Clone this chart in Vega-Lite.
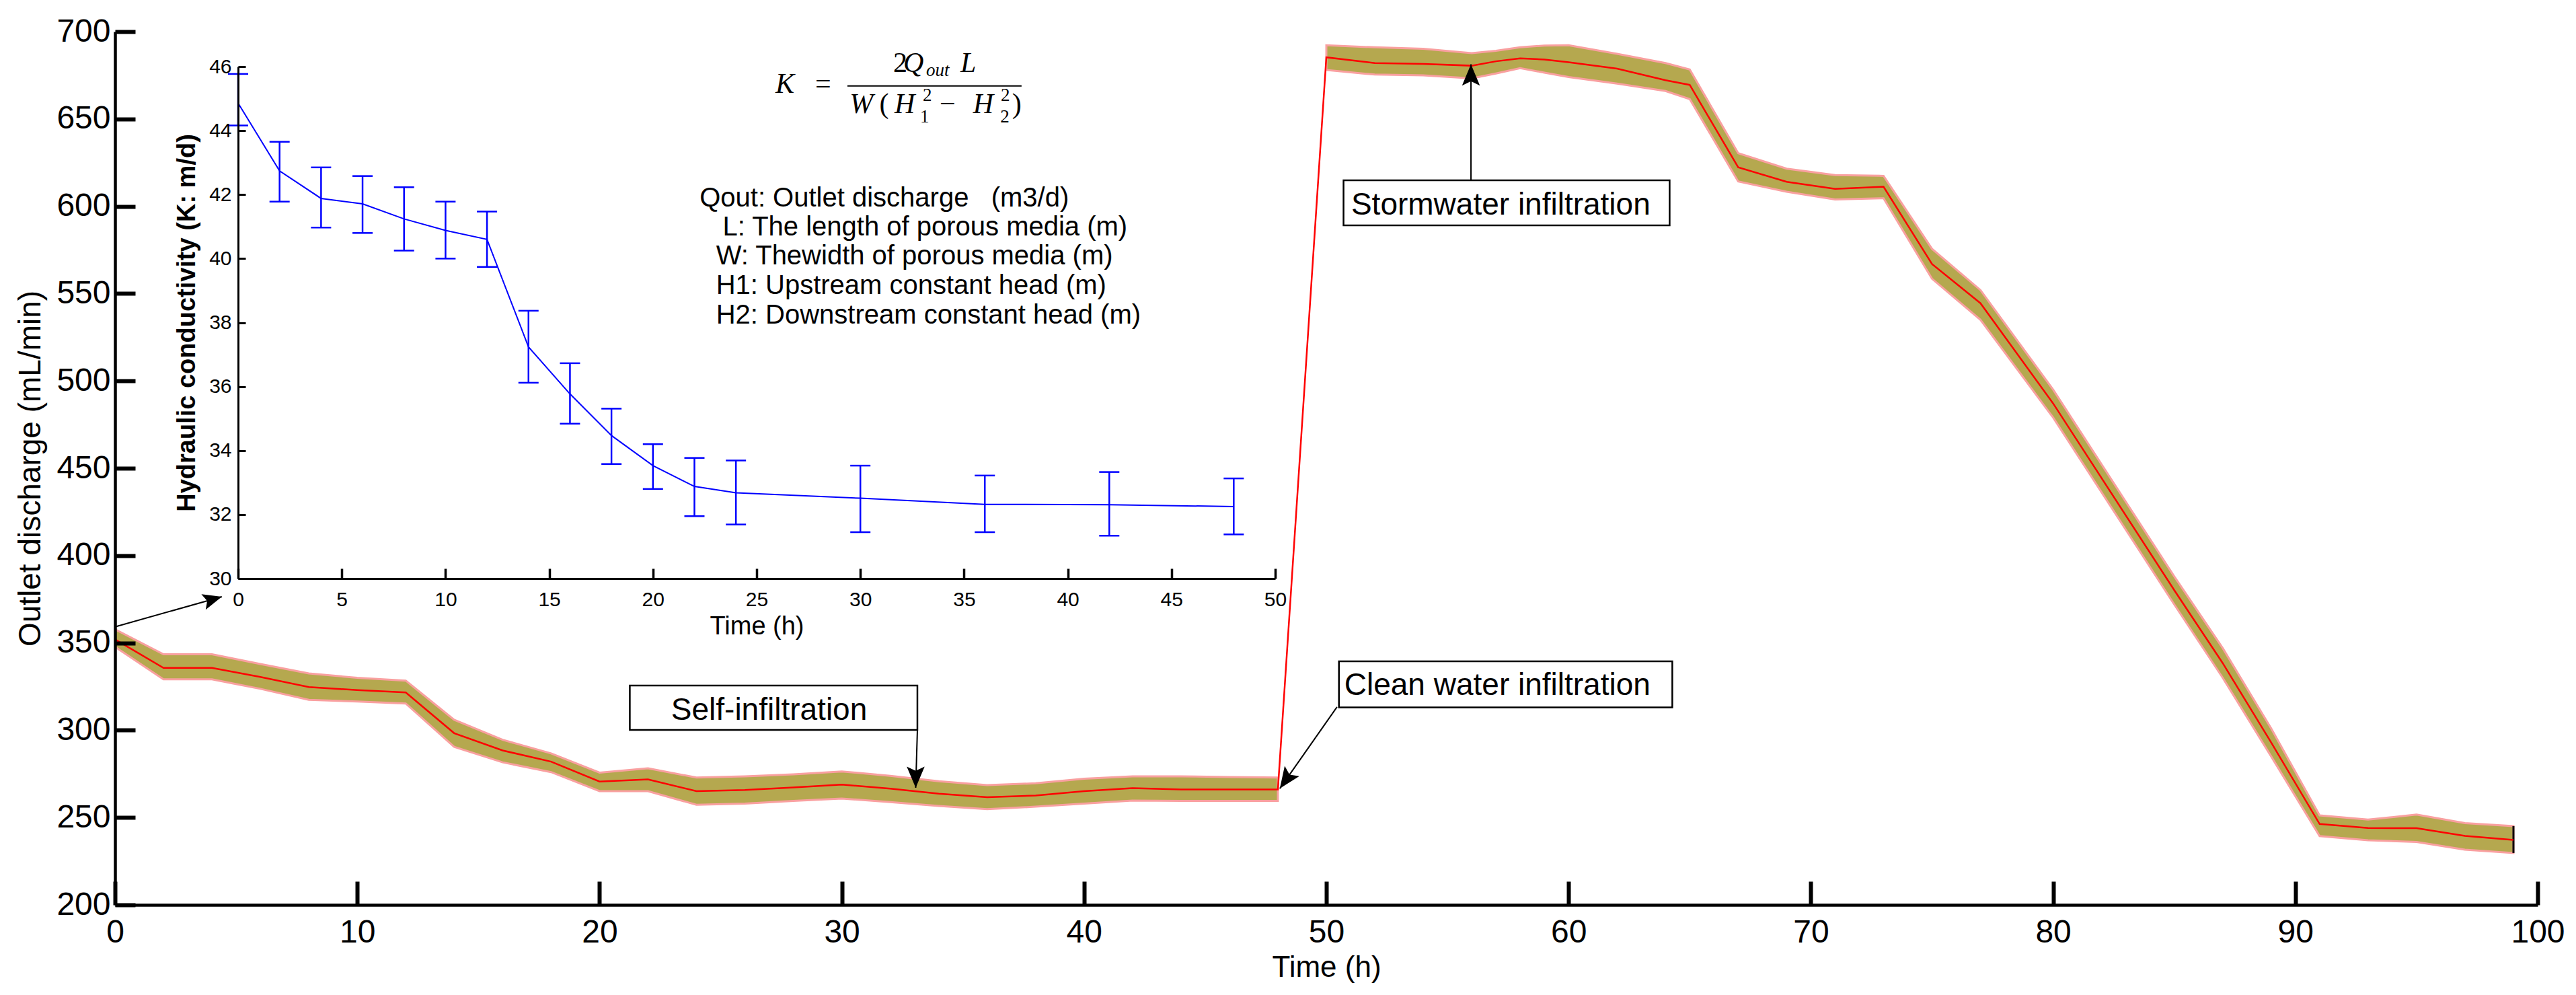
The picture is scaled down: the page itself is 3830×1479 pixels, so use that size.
{
  "$schema": "https://vega.github.io/schema/vega-lite/v6.json",
  "width": 3602,
  "height": 1298,
  "autosize": {"type": "none"},
  "padding": {"left": 171, "top": 47, "right": 57, "bottom": 134},
  "background": "white",
  "datasets": {
    "main": [
      {"t": 0, "q": 352.0, "lo": 347.7, "hi": 357.8, "seg": "a"},
      {"t": 2, "q": 335.7, "lo": 329.1, "hi": 343.5, "seg": "a"},
      {"t": 4, "q": 335.7, "lo": 329.1, "hi": 343.5, "seg": "a"},
      {"t": 6, "q": 330.5, "lo": 323.7, "hi": 337.9, "seg": "a"},
      {"t": 8, "q": 324.7, "lo": 317.4, "hi": 332.5, "seg": "a"},
      {"t": 10, "q": 323.0, "lo": 316.4, "hi": 330.0, "seg": "a"},
      {"t": 12, "q": 321.6, "lo": 315.3, "hi": 328.4, "seg": "a"},
      {"t": 14, "q": 298.3, "lo": 290.5, "hi": 306.0, "seg": "a"},
      {"t": 16, "q": 288.4, "lo": 281.6, "hi": 294.5, "seg": "a"},
      {"t": 18, "q": 282.0, "lo": 276.0, "hi": 286.7, "seg": "a"},
      {"t": 20, "q": 270.6, "lo": 265.1, "hi": 275.7, "seg": "a"},
      {"t": 22, "q": 271.8, "lo": 265.1, "hi": 278.2, "seg": "a"},
      {"t": 24, "q": 265.1, "lo": 257.3, "hi": 272.9, "seg": "a"},
      {"t": 26, "q": 265.8, "lo": 258.0, "hi": 273.6, "seg": "a"},
      {"t": 28, "q": 267.2, "lo": 259.5, "hi": 274.7, "seg": "a"},
      {"t": 30, "q": 268.9, "lo": 260.9, "hi": 276.4, "seg": "a"},
      {"t": 32, "q": 266.5, "lo": 258.8, "hi": 273.9, "seg": "a"},
      {"t": 34, "q": 263.7, "lo": 256.6, "hi": 270.8, "seg": "a"},
      {"t": 36, "q": 261.6, "lo": 254.8, "hi": 268.6, "seg": "a"},
      {"t": 38, "q": 262.6, "lo": 256.2, "hi": 269.6, "seg": "a"},
      {"t": 40, "q": 265.1, "lo": 258.0, "hi": 272.2, "seg": "a"},
      {"t": 42, "q": 266.8, "lo": 259.7, "hi": 273.6, "seg": "a"},
      {"t": 44, "q": 266.1, "lo": 259.5, "hi": 273.6, "seg": "a"},
      {"t": 46, "q": 266.1, "lo": 259.5, "hi": 273.2, "seg": "a"},
      {"t": 48, "q": 266.1, "lo": 259.5, "hi": 272.9, "seg": "a"},
      {"t": 50, "q": 685.3, "lo": 678.0, "hi": 692.2, "seg": "b"},
      {"t": 52, "q": 682.0, "lo": 675.4, "hi": 691.0, "seg": "b"},
      {"t": 54, "q": 681.5, "lo": 675.0, "hi": 690.2, "seg": "b"},
      {"t": 56, "q": 680.5, "lo": 673.2, "hi": 687.7, "seg": "b"},
      {"t": 57, "q": 683.0, "lo": 676.0, "hi": 689.0, "seg": "b"},
      {"t": 58, "q": 684.7, "lo": 679.1, "hi": 691.0, "seg": "b"},
      {"t": 59, "q": 684.0, "lo": 676.5, "hi": 692.0, "seg": "b"},
      {"t": 60, "q": 682.5, "lo": 674.0, "hi": 692.2, "seg": "b"},
      {"t": 62, "q": 678.8, "lo": 670.2, "hi": 687.3, "seg": "b"},
      {"t": 64, "q": 672.2, "lo": 666.0, "hi": 682.0, "seg": "b"},
      {"t": 65, "q": 669.5, "lo": 661.4, "hi": 678.3, "seg": "b"},
      {"t": 67, "q": 622.3, "lo": 614.2, "hi": 630.4, "seg": "b"},
      {"t": 69, "q": 614.0, "lo": 608.3, "hi": 621.5, "seg": "b"},
      {"t": 71, "q": 610.0, "lo": 603.9, "hi": 617.9, "seg": "b"},
      {"t": 73, "q": 611.2, "lo": 604.6, "hi": 617.4, "seg": "b"},
      {"t": 75, "q": 566.9, "lo": 558.5, "hi": 575.6, "seg": "b"},
      {"t": 77, "q": 544.5, "lo": 535.0, "hi": 552.0, "seg": "b"},
      {"t": 80, "q": 487.1, "lo": 479.0, "hi": 495.0, "seg": "b"},
      {"t": 85, "q": 380.2, "lo": 372.0, "hi": 388.0, "seg": "b"},
      {"t": 87, "q": 338.4, "lo": 330.0, "hi": 347.0, "seg": "b"},
      {"t": 89, "q": 293.0, "lo": 285.0, "hi": 301.0, "seg": "b"},
      {"t": 91, "q": 246.3, "lo": 239.4, "hi": 251.2, "seg": "b"},
      {"t": 93, "q": 244.0, "lo": 237.0, "hi": 248.8, "seg": "b"},
      {"t": 95, "q": 243.9, "lo": 236.0, "hi": 251.7, "seg": "b"},
      {"t": 97, "q": 239.5, "lo": 231.6, "hi": 246.8, "seg": "b"},
      {"t": 99, "q": 237.2, "lo": 229.7, "hi": 245.1, "seg": "b"}
    ],
    "inset": [
      {"h": 0, "k": 44.86, "lo": 44.16, "hi": 45.77},
      {"h": 2, "k": 42.74, "lo": 41.78, "hi": 43.65},
      {"h": 4, "k": 41.88, "lo": 40.97, "hi": 42.85},
      {"h": 6, "k": 41.71, "lo": 40.8, "hi": 42.58},
      {"h": 8, "k": 41.24, "lo": 40.25, "hi": 42.23},
      {"h": 10, "k": 40.88, "lo": 40.0, "hi": 41.78},
      {"h": 12, "k": 40.6, "lo": 39.74, "hi": 41.47},
      {"h": 14, "k": 37.24, "lo": 36.12, "hi": 38.37},
      {"h": 16, "k": 35.77, "lo": 34.84, "hi": 36.73},
      {"h": 18, "k": 34.47, "lo": 33.58, "hi": 35.31},
      {"h": 20, "k": 33.53, "lo": 32.8, "hi": 34.2},
      {"h": 22, "k": 32.88, "lo": 31.95, "hi": 33.77},
      {"h": 24, "k": 32.68, "lo": 31.69, "hi": 33.69},
      {"h": 30, "k": 32.51, "lo": 31.45, "hi": 33.53},
      {"h": 36, "k": 32.32, "lo": 31.45, "hi": 33.22},
      {"h": 42, "k": 32.31, "lo": 31.34, "hi": 33.33},
      {"h": 48, "k": 32.25, "lo": 31.38, "hi": 33.13}
    ],
    "boxes": [
      {"label": "Self-infiltration", "t1": 21.25, "t2": 33.12, "v1": 300.2, "v2": 325.6, "lx": 27.0, "ly": 311.5},
      {"label": "Clean water infiltration", "t1": 50.52, "t2": 64.28, "v1": 313.1, "v2": 339.4, "lx": 57.06, "ly": 325.5},
      {"label": "Stormwater infiltration", "t1": 50.71, "t2": 64.17, "v1": 589.1, "v2": 614.9, "lx": 57.2, "ly": 600.5}
    ],
    "arrows": [
      {"id": "self", "fx": 33.12, "fy": 300.2, "tx": 33.05, "ty": 267.0},
      {"id": "clean", "fx": 50.44, "fy": 313.3, "tx": 48.08, "ty": 266.6},
      {"id": "storm", "fx": 55.97, "fy": 614.9, "tx": 55.97, "ty": 681.3},
      {"id": "inset", "fx": 0, "fy": 359.2, "tx": 4.41, "ty": 376.4}
    ],
    "fItalic": [
      {"s": "K", "t": 27.26, "v": 664.9},
      {"s": "Q", "t": 32.54, "v": 676.9},
      {"s": "L", "t": 34.9, "v": 676.9},
      {"s": "W", "t": 30.32, "v": 653.4},
      {"s": "H", "t": 32.18, "v": 653.4},
      {"s": "H", "t": 35.42, "v": 653.4}
    ],
    "fUpright": [
      {"s": "=", "t": 28.9, "v": 664.9},
      {"s": "2", "t": 32.12, "v": 676.9},
      {"s": "(", "t": 31.55, "v": 653.4},
      {"s": "\u2212", "t": 34.04, "v": 653.4},
      {"s": ")", "t": 37.03, "v": 653.4}
    ],
    "fSmallItalic": [
      {"s": "out", "t": 33.48, "v": 674.5}
    ],
    "fSmallUpright": [
      {"s": "2", "t": 33.34, "v": 660.3},
      {"s": "1", "t": 33.23, "v": 648.0},
      {"s": "2", "t": 36.56, "v": 660.3},
      {"s": "2", "t": 36.54, "v": 648.0}
    ],
    "fBar": [
      {"t1": 30.23, "t2": 37.42, "v": 668.9}
    ],
    "legendText": [
      {"s": "Qout: Outlet discharge\u00a0\u00a0\u00a0(m3/d)", "t": 24.13, "v": 604.6},
      {"s": "L: The length of porous media (m)", "t": 25.08, "v": 587.9},
      {"s": "W: Thewidth of porous media (m)", "t": 24.81, "v": 571.2},
      {"s": "H1: Upstream constant head (m)", "t": 24.81, "v": 554.5},
      {"s": "H2: Downstream constant head (m)", "t": 24.81, "v": 537.5}
    ]
  },
  "layer": [
    {
      "layer": [
        {
          "data": {"name": "main"},
          "mark": {"type": "area", "fill": "#b5a84f", "stroke": "#f9a0a0", "strokeWidth": 3, "opacity": 1},
          "encoding": {
            "x": {
              "field": "t", "type": "quantitative",
              "scale": {"domain": [0, 100], "nice": false, "zero": false},
              "axis": {
                "orient": "bottom", "values": [0, 10, 20, 30, 40, 50, 60, 70, 80, 90, 100], "zindex": 1,
                "title": "Time (h)", "tickSize": -35, "tickWidth": 6, "tickColor": "#000000", "domainWidth": 4.5,
                "labelFontSize": 48, "labelPadding": 52, "labelFlush": false, "labelOverlap": false,
                "titleFontSize": 44, "titlePadding": 6
              }
            },
            "y": {
              "field": "lo", "type": "quantitative",
              "scale": {"domain": [200, 700], "nice": false, "zero": false},
              "axis": {
                "orient": "left", "values": [200, 250, 300, 350, 400, 450, 500, 550, 600, 650, 700], "zindex": 1,
                "title": "Outlet discharge (mL/min)", "tickSize": -30, "tickWidth": 6, "tickColor": "#000000", "domainWidth": 4.5,
                "labelFontSize": 48, "labelPadding": 37, "labelOverlap": false,
                "titleFontSize": 46, "titlePadding": 14
              }
            },
            "y2": {"field": "hi"},
            "detail": {"field": "seg"}
          }
        },
        {
          "data": {"name": "main"},
          "transform": [{"filter": {"field": "t", "equal": 99}}],
          "mark": {"type": "rule", "color": "black", "strokeWidth": 3},
          "encoding": {
            "x": {"field": "t", "type": "quantitative", "scale": {"domain": [0, 100], "nice": false, "zero": false}},
            "y": {"field": "lo", "type": "quantitative", "scale": {"domain": [200, 700], "nice": false, "zero": false}},
            "y2": {"field": "hi"}
          }
        },
        {
          "data": {"name": "main"},
          "mark": {"type": "line", "color": "#ff0000", "strokeWidth": 2.5},
          "encoding": {
            "x": {"field": "t", "type": "quantitative", "scale": {"domain": [0, 100], "nice": false, "zero": false}},
            "y": {"field": "q", "type": "quantitative", "scale": {"domain": [200, 700], "nice": false, "zero": false}},
            "order": {"field": "t"}
          }
        },
        {
          "data": {"name": "boxes"},
          "mark": {"type": "rect", "fill": "white", "stroke": "black", "strokeWidth": 2.5},
          "encoding": {
            "x": {"field": "t1", "type": "quantitative", "scale": {"domain": [0, 100], "nice": false, "zero": false}},
            "x2": {"field": "t2"},
            "y": {"field": "v1", "type": "quantitative", "scale": {"domain": [200, 700], "nice": false, "zero": false}},
            "y2": {"field": "v2"}
          }
        },
        {
          "data": {"name": "boxes"},
          "mark": {"type": "text", "font": "Liberation Sans", "fontSize": 46, "align": "center", "baseline": "middle", "color": "black"},
          "encoding": {
            "x": {"field": "lx", "type": "quantitative", "scale": {"domain": [0, 100], "nice": false, "zero": false}},
            "y": {"field": "ly", "type": "quantitative", "scale": {"domain": [200, 700], "nice": false, "zero": false}},
            "text": {"field": "label"}
          }
        },
        {
          "data": {"name": "arrows"},
          "mark": {"type": "rule", "color": "black", "strokeWidth": 2},
          "encoding": {
            "x": {"field": "fx", "type": "quantitative", "scale": {"domain": [0, 100], "nice": false, "zero": false}},
            "x2": {"field": "tx"},
            "y": {"field": "fy", "type": "quantitative", "scale": {"domain": [200, 700], "nice": false, "zero": false}},
            "y2": {"field": "ty"}
          }
        },
        {
          "data": {"name": "arrows"},
          "transform": [{"filter": {"field": "id", "equal": "self"}}],
          "mark": {"type": "point", "shape": "M0,0L-0.42,-1L0,-0.8L0.42,-1Z", "filled": true, "color": "black", "opacity": 1, "size": 4000, "angle": 0, "strokeWidth": 0},
          "encoding": {
            "x": {"field": "tx", "type": "quantitative", "scale": {"domain": [0, 100], "nice": false, "zero": false}},
            "y": {"field": "ty", "type": "quantitative", "scale": {"domain": [200, 700], "nice": false, "zero": false}}
          }
        },
        {
          "data": {"name": "arrows"},
          "transform": [{"filter": {"field": "id", "equal": "clean"}}],
          "mark": {"type": "point", "shape": "M0,0L-0.42,-1L0,-0.8L0.42,-1Z", "filled": true, "color": "black", "opacity": 1, "size": 4000, "angle": 35, "strokeWidth": 0},
          "encoding": {
            "x": {"field": "tx", "type": "quantitative", "scale": {"domain": [0, 100], "nice": false, "zero": false}},
            "y": {"field": "ty", "type": "quantitative", "scale": {"domain": [200, 700], "nice": false, "zero": false}}
          }
        },
        {
          "data": {"name": "arrows"},
          "transform": [{"filter": {"field": "id", "equal": "storm"}}],
          "mark": {"type": "point", "shape": "M0,0L-0.42,-1L0,-0.8L0.42,-1Z", "filled": true, "color": "black", "opacity": 1, "size": 4000, "angle": 180, "strokeWidth": 0},
          "encoding": {
            "x": {"field": "tx", "type": "quantitative", "scale": {"domain": [0, 100], "nice": false, "zero": false}},
            "y": {"field": "ty", "type": "quantitative", "scale": {"domain": [200, 700], "nice": false, "zero": false}}
          }
        },
        {
          "data": {"name": "arrows"},
          "transform": [{"filter": {"field": "id", "equal": "inset"}}],
          "mark": {"type": "point", "shape": "M0,0L-0.42,-1L0,-0.8L0.42,-1Z", "filled": true, "color": "black", "opacity": 1, "size": 3200, "angle": 254.3, "strokeWidth": 0},
          "encoding": {
            "x": {"field": "tx", "type": "quantitative", "scale": {"domain": [0, 100], "nice": false, "zero": false}},
            "y": {"field": "ty", "type": "quantitative", "scale": {"domain": [200, 700], "nice": false, "zero": false}}
          }
        },
        {
          "data": {"name": "fBar"},
          "mark": {"type": "rule", "color": "black", "strokeWidth": 2},
          "encoding": {
            "x": {"field": "t1", "type": "quantitative", "scale": {"domain": [0, 100], "nice": false, "zero": false}},
            "x2": {"field": "t2"},
            "y": {"field": "v", "type": "quantitative", "scale": {"domain": [200, 700], "nice": false, "zero": false}}
          }
        },
        {
          "data": {"name": "fItalic"},
          "mark": {"type": "text", "font": "Liberation Serif", "fontStyle": "italic", "fontSize": 42, "align": "left", "baseline": "alphabetic", "color": "black"},
          "encoding": {
            "x": {"field": "t", "type": "quantitative", "scale": {"domain": [0, 100], "nice": false, "zero": false}},
            "y": {"field": "v", "type": "quantitative", "scale": {"domain": [200, 700], "nice": false, "zero": false}},
            "text": {"field": "s"}
          }
        },
        {
          "data": {"name": "fUpright"},
          "mark": {"type": "text", "font": "Liberation Serif", "fontSize": 42, "align": "left", "baseline": "alphabetic", "color": "black"},
          "encoding": {
            "x": {"field": "t", "type": "quantitative", "scale": {"domain": [0, 100], "nice": false, "zero": false}},
            "y": {"field": "v", "type": "quantitative", "scale": {"domain": [200, 700], "nice": false, "zero": false}},
            "text": {"field": "s"}
          }
        },
        {
          "data": {"name": "fSmallItalic"},
          "mark": {"type": "text", "font": "Liberation Serif", "fontStyle": "italic", "fontSize": 27, "align": "left", "baseline": "alphabetic", "color": "black"},
          "encoding": {
            "x": {"field": "t", "type": "quantitative", "scale": {"domain": [0, 100], "nice": false, "zero": false}},
            "y": {"field": "v", "type": "quantitative", "scale": {"domain": [200, 700], "nice": false, "zero": false}},
            "text": {"field": "s"}
          }
        },
        {
          "data": {"name": "fSmallUpright"},
          "mark": {"type": "text", "font": "Liberation Serif", "fontSize": 27, "align": "left", "baseline": "alphabetic", "color": "black"},
          "encoding": {
            "x": {"field": "t", "type": "quantitative", "scale": {"domain": [0, 100], "nice": false, "zero": false}},
            "y": {"field": "v", "type": "quantitative", "scale": {"domain": [200, 700], "nice": false, "zero": false}},
            "text": {"field": "s"}
          }
        },
        {
          "data": {"name": "legendText"},
          "mark": {"type": "text", "font": "Liberation Sans", "fontSize": 40, "align": "left", "baseline": "middle", "color": "black"},
          "encoding": {
            "x": {"field": "t", "type": "quantitative", "scale": {"domain": [0, 100], "nice": false, "zero": false}},
            "y": {"field": "v", "type": "quantitative", "scale": {"domain": [200, 700], "nice": false, "zero": false}},
            "text": {"field": "s"}
          }
        }
      ]
    },
    {
      "data": {"name": "inset"},
      "layer": [
        {
          "mark": {"type": "rule", "color": "#0000ff", "strokeWidth": 2.5},
          "encoding": {
            "x": {
              "field": "h", "type": "quantitative",
              "scale": {"domain": [0, 50], "range": [183, 1725], "nice": false, "zero": false},
              "axis": {
                "orient": "bottom", "offset": -485, "values": [0, 5, 10, 15, 20, 25, 30, 35, 40, 45, 50], "format": "d", "zindex": 1,
                "title": "Time (h)", "tickSize": -15, "tickWidth": 3.5, "tickColor": "#000000", "domainWidth": 3,
                "labelFontSize": 30, "labelPadding": 31, "labelFlush": false, "labelOverlap": false,
                "titleFontSize": 38, "titlePadding": 6
              }
            },
            "y": {
              "field": "lo", "type": "quantitative",
              "scale": {"domain": [30, 46], "range": [813, 52], "nice": false, "zero": false},
              "axis": {
                "orient": "left", "offset": -183, "values": [30, 32, 34, 36, 38, 40, 42, 44, 46], "format": "d", "zindex": 1,
                "title": "Hydraulic conductivity (K: m/d)", "tickSize": -11, "tickWidth": 3, "tickColor": "#000000", "domainWidth": 3,
                "labelFontSize": 30, "labelPadding": 21, "labelOverlap": false,
                "titleFontSize": 38, "titleFontWeight": "bold", "titlePadding": 13
              }
            },
            "y2": {"field": "hi"}
          }
        },
        {
          "mark": {"type": "tick", "orient": "horizontal", "color": "#0000ff", "size": 30, "thickness": 2.5, "opacity": 1},
          "encoding": {
            "x": {"field": "h", "type": "quantitative", "scale": {"domain": [0, 50], "range": [183, 1725], "nice": false, "zero": false}},
            "y": {"field": "lo", "type": "quantitative", "scale": {"domain": [30, 46], "range": [813, 52], "nice": false, "zero": false}}
          }
        },
        {
          "mark": {"type": "tick", "orient": "horizontal", "color": "#0000ff", "size": 30, "thickness": 2.5, "opacity": 1},
          "encoding": {
            "x": {"field": "h", "type": "quantitative", "scale": {"domain": [0, 50], "range": [183, 1725], "nice": false, "zero": false}},
            "y": {"field": "hi", "type": "quantitative", "scale": {"domain": [30, 46], "range": [813, 52], "nice": false, "zero": false}}
          }
        },
        {
          "mark": {"type": "line", "color": "#0000ff", "strokeWidth": 2},
          "encoding": {
            "x": {"field": "h", "type": "quantitative", "scale": {"domain": [0, 50], "range": [183, 1725], "nice": false, "zero": false}},
            "y": {"field": "k", "type": "quantitative", "scale": {"domain": [30, 46], "range": [813, 52], "nice": false, "zero": false}},
            "order": {"field": "h"}
          }
        }
      ]
    }
  ],
  "resolve": {"scale": {"x": "independent", "y": "independent"}},
  "config": {
    "view": {"stroke": null},
    "font": "Liberation Sans",
    "axis": {
      "grid": false,
      "labelColor": "black",
      "titleColor": "black",
      "domainColor": "black",
      "labelFont": "Liberation Sans",
      "titleFont": "Liberation Sans",
      "titleFontWeight": "normal"
    }
  }
}
